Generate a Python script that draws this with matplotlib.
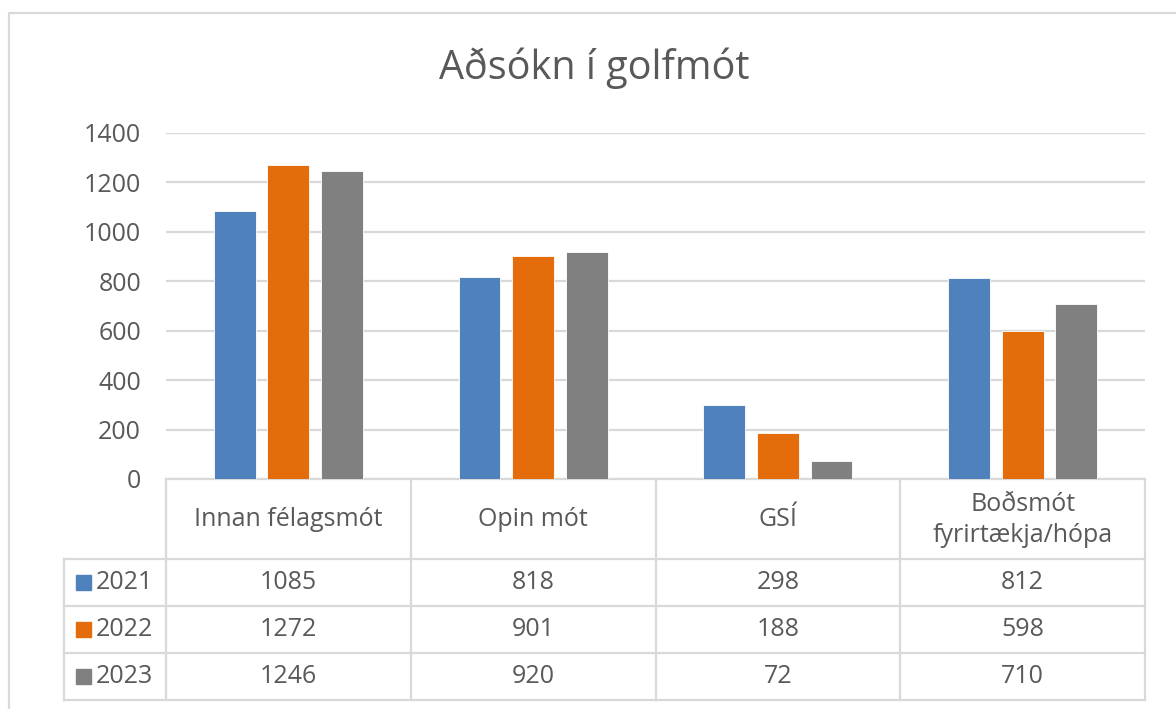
import numpy as np
import matplotlib
matplotlib.use("Agg")
import matplotlib.pyplot as plt
from matplotlib.patches import Rectangle

plt.rcParams["font.family"] = ["Open Sans", "DejaVu Sans"]

# ---- data ----
categories = ["Innan félagsmót", "Opin mót", "GSÍ", "Boðsmót\nfyrirtækja/hópa"]
years = ["2021", "2022", "2023"]
v2021 = [1085, 818, 298, 812]
v2022 = [1272, 901, 188, 598]
v2023 = [1246, 920, 72, 710]
series = [v2021, v2022, v2023]
colors = ["#4F81BD", "#E46C0A", "#808080"]
yticks = [0, 200, 400, 600, 800, 1000, 1200, 1400]

W, H = 1176, 709
TXT = "#595959"
LINE = "#D9D9D9"
FS = 18

fig = plt.figure(figsize=(W / 100, H / 100), dpi=100)

# pixel layout
x0, x1 = 166, 1145
y_top, y_zero = 133, 479
ax = fig.add_axes([x0 / W, 1 - y_zero / H, (x1 - x0) / W, (y_zero - y_top) / H])
n = len(categories)
step, bw = 0.219, 0.171
for j, (vals, c) in enumerate(zip(series, colors)):
    xs = np.arange(n) + 0.5 + (j - 1) * step
    ax.bar(xs, vals, width=bw, color=c, edgecolor="white", linewidth=0.6, zorder=3)
ax.set_xlim(0, n)
ax.set_ylim(0, 1400)
ax.set_yticks(yticks)
ax.set_yticklabels([str(t) for t in yticks], fontsize=FS, color=TXT)
ax.tick_params(axis="y", length=0, pad=18)
ax.set_xticks([])
ax.grid(axis="y", color=LINE, linewidth=1.6, zorder=0)
for s in ax.spines.values():
    s.set_visible(False)
ax.set_facecolor("none")

# overlay in pixel coordinates for table + frame
ov = fig.add_axes([0, 0, 1, 1], zorder=-1)
ov.set_xlim(0, W)
ov.set_ylim(H, 0)
ov.axis("off")

# outer chart frame
ov.plot([9, 9, W + 5], [H + 5, 13, 13], color=LINE, lw=1.6)

ov.text(594, 68, "Aðsókn í golfmót", ha="center", va="center", fontsize=28.5, color=TXT)

cols = [x0 + (x1 - x0) * i / n for i in range(n + 1)]
hdr_top, hdr_bot = 479, 559
row_h = 47
rows = [hdr_bot + row_h * i for i in range(len(years) + 1)]
left = 64
lkw = dict(color=LINE, lw=1.6, solid_capstyle="projecting")
# horizontal lines
ov.plot([x0, x1], [hdr_top, hdr_top], **lkw)
for y in rows:
    ov.plot([left, x1], [y, y], **lkw)
# vertical lines
for x in cols:
    ov.plot([x, x], [hdr_top, rows[-1]], **lkw)
ov.plot([left, left], [hdr_bot, rows[-1]], **lkw)

# header text
for i, cat in enumerate(categories):
    ov.text((cols[i] + cols[i + 1]) / 2, (hdr_top + hdr_bot) / 2 + 1, cat,
            ha="center", va="center", fontsize=FS, color=TXT, linespacing=1.3)

# rows
for r, (yr, vals, c) in enumerate(zip(years, series, colors)):
    yc = (rows[r] + rows[r + 1]) / 2
    ov.add_patch(Rectangle((76, yc - 7.5), 15, 15, color=c))
    ov.text(96, yc, yr, ha="left", va="center", fontsize=FS, color=TXT)
    for i, v in enumerate(vals):
        ov.text((cols[i] + cols[i + 1]) / 2, yc, str(v), ha="center", va="center",
                fontsize=FS, color=TXT)

fig.savefig("out.png", dpi=100)
